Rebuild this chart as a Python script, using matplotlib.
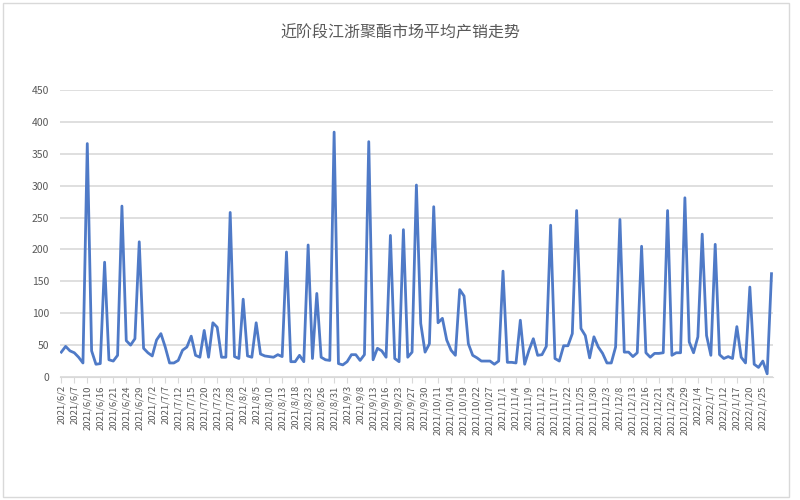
import matplotlib
matplotlib.use('Agg')
import matplotlib.pyplot as plt
from matplotlib.patches import Rectangle

plt.rcParams['font.family'] = ['Noto Sans CJK SC', 'DejaVu Sans']

title = '近阶段江浙聚酯市场平均产销走势'

# one label every 3 trading days
date_labels = [
    '2021/6/2', '2021/6/7', '2021/6/10', '2021/6/16', '2021/6/21', '2021/6/24', '2021/6/29',
    '2021/7/2', '2021/7/7', '2021/7/12', '2021/7/15', '2021/7/20', '2021/7/23', '2021/7/28',
    '2021/8/2', '2021/8/5', '2021/8/10', '2021/8/13', '2021/8/18', '2021/8/23', '2021/8/26',
    '2021/8/31', '2021/9/3', '2021/9/8', '2021/9/13', '2021/9/16', '2021/9/23', '2021/9/27',
    '2021/9/30', '2021/10/11', '2021/10/14', '2021/10/19', '2021/10/22', '2021/10/27',
    '2021/11/1', '2021/11/4', '2021/11/9', '2021/11/12', '2021/11/17', '2021/11/22',
    '2021/11/25', '2021/11/30', '2021/12/3', '2021/12/8', '2021/12/13', '2021/12/16',
    '2021/12/21', '2021/12/24', '2021/12/29', '2022/1/4', '2022/1/7', '2022/1/12',
    '2022/1/17', '2022/1/20', '2022/1/25',
]

sales = [
    39, 48, 41, 38, 31, 22, 366, 41, 20, 21, 180, 27, 25, 34, 268, 57, 50, 60, 212, 45,
    38, 33, 58, 68, 47, 22, 22, 26, 42, 47, 64, 34, 31, 73, 31, 85, 78, 31, 31, 258,
    32, 29, 122, 33, 31, 85, 36, 33, 32, 31, 35, 32, 196, 24, 24, 34, 24, 207, 29, 131,
    31, 27, 26, 384, 21, 19, 24, 35, 35, 26, 35, 369, 27, 45, 41, 31, 222, 29, 24, 231,
    31, 39, 301, 84, 39, 52, 267, 85, 92, 58, 42, 34, 137, 127, 52, 34, 30, 25, 25, 25,
    20, 25, 166, 23, 23, 22, 89, 20, 42, 60, 34, 35, 48, 238, 29, 25, 49, 49, 68, 261,
    76, 65, 30, 63, 47, 37, 22, 22, 47, 247, 39, 39, 32, 38, 205, 38, 31, 37, 37, 38,
    261, 34, 38, 38, 281, 55, 38, 63, 224, 65, 34, 208, 35, 29, 32, 29, 79, 31, 22, 141,
    20, 15, 25, 5, 162,
]

x = list(range(len(sales)))
tick_pos = [i * 3 for i in range(len(date_labels))]

fig = plt.figure(figsize=(8, 5), dpi=100)
fig.patches.append(Rectangle((0.004, 0.006), 0.982, 0.988, transform=fig.transFigure,
                             fill=False, edgecolor='#d9d9d9', linewidth=1))

ax = fig.add_axes([0.075, 0.246, 0.891, 0.574])
ax.plot(x, sales, color='#4f7ac7', linewidth=2)

ax.set_ylim(0, 450)
ax.set_yticks(range(0, 451, 50))
ax.set_xlim(-0.3, len(sales) - 0.7)
ax.set_xticks(tick_pos)
ax.set_xticklabels(date_labels, rotation=90, fontsize=6.8, color='#595959')
ax.tick_params(axis='y', length=0, labelsize=7.5, labelcolor='#595959', pad=8)
ax.tick_params(axis='x', length=4, color='#d9d9d9', pad=2)

ax.grid(axis='y', color='#d9d9d9', linewidth=1.2)
ax.set_axisbelow(True)
for side in ['top', 'right', 'left']:
    ax.spines[side].set_visible(False)
ax.spines['bottom'].set_color('#d9d9d9')

fig.text(0.5, 0.935, title, ha='center', va='center', fontsize=11.5, color='#595959')

fig.savefig('out.png', dpi=100)
